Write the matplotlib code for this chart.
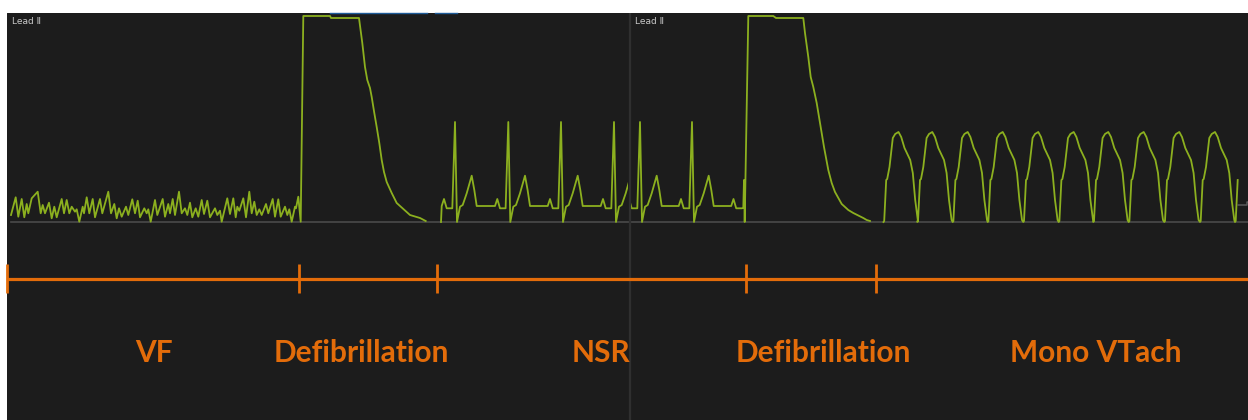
import numpy as np
import matplotlib.pyplot as plt

# trace values: x = screen column of the monitor strip, y = height above baseline
vf_x = [11, 15.7, 18.3, 21.7, 24.3, 26.7, 28.3, 31.7, 37.7, 40.7, 42.7, 45, 49, 51.7,
        54.3, 56.7, 61.7, 64, 66.7, 69.3, 71.7, 75, 76.7, 79.3, 82.7, 84, 86.7, 89.3,
        92.7, 95, 100, 102.3, 108.3, 111, 114.3, 116.7, 119, 121.7, 126, 128.3, 132.3,
        135, 137.7, 140, 144.3, 146.7, 148.3, 150.7, 155, 157.3, 162.7, 165, 168.3, 170,
        172.7, 175, 179, 181.7, 185, 187.3, 190, 192.3, 195.7, 198.3, 201.7, 204, 207.3,
        210, 215, 217.3, 220, 221.7, 227.3, 230, 233.3, 235.7, 237.3, 239.3, 243.3, 246,
        249.3, 251.7, 254.3, 256.7, 259.3, 261.7, 266, 268.3, 272.7, 275, 278.3, 280.7,
        285, 287.3, 289.3, 291.7, 295, 296, 298.3, 300.7]
vf_y = [7, 24.7, 5.3, 23, 4.7, 18, 8.7, 23.7, 30.3, 8.7, 17, 8.7, 19.3, 3.7,
        15.3, 4.7, 23, 8.7, 22, 8.7, 15.3, 10.3, 12.7, 0.3, 15.3, 8.7, 24.7, 8.7,
        23, 4.7, 23, 8.7, 30.3, 8.7, 18, 3.7, 13.7, 5.3, 15.3, 7, 22.7,
        8.7, 21.3, 4.7, 13.7, 8.7, 12.7, 0.3, 22, 7, 23, 5.3, 18, 8.7,
        23, 7, 30.3, 8.7, 13.7, 7, 19.3, 4.7, 13.7, 5.3, 22, 8, 21.3,
        4.7, 13.7, 7, 11.3, 0.3, 23.7, 8, 23.7, 4.7, 15.3, 11.3, 23.7, 4.7,
        30.3, 8.7, 20.3, 7, 12.7, 7, 18, 8.7, 23, 5.3, 22.7, 5.3,
        15.3, 7, 12.7, 0.3, 15.3, 13.7, 25.3, 0.3]

shock1_x = [303.3, 330, 331, 359, 362.3, 365, 367.3, 370, 371.7, 374.3, 376.7, 379.3,
            381.7, 384, 386.7, 391.7, 396.7, 403.3, 410, 416.7, 420, 425.7]
shock1_y = [206, 206, 204, 204, 179, 155, 142, 134, 125, 109, 95, 79,
            62, 50, 40, 29, 19, 13, 7, 5, 4, 1]

shock2_x = [743.3, 744, 744.7, 748.3, 773.3, 776, 803.3, 805, 808.3, 810.7, 813.3, 816.7,
            820, 824, 828.3, 831.7, 835, 841.7, 848.3, 853.3, 863.3, 866.7, 870]
shock2_y = [14, 42, 0, 206, 206, 204, 204, 189, 165, 145, 135, 119,
            99, 75, 52, 39, 30, 18, 12, 9, 4, 2, 1]

# one sinus beat, offsets from the R peak
nsr_dx = [-13.3, -11, -8.3, -2.7, 0, 2, 5, 7.7, 11.7, 16.7, 19.3, 21.7, 25]
nsr_y = [16, 23, 13.7, 13.7, 100, 0, 15.3, 17, 28.7, 46.3, 32, 16, 16]
nsr_r_left = [455, 508.3, 561, 614]
nsr_r_right = [640, 692]
p_wave_before_shock = 744.5

# one monomorphic VT complex, offsets from its onset
vt_dx = [0, 0.7, 2.7, 3.7, 6, 9.3, 11.7, 15, 17.7, 21, 26.7, 29.3, 31.7, 34.3]
vt_y = [0, 1, 42, 43, 55, 84, 88, 90, 85, 74, 62, 49, 22, 2]
vt_onsets = [883.5, 917.3, 952.7, 987.7, 1023.3, 1058.7, 1093.3, 1128.7, 1164.3, 1200, 1235]
vt_end = 1238

# timeline under the strips
event_x = [7, 299, 437, 746, 876]
segment_names = ["VF", "Defibrillation", "NSR", "Defibrillation", "Mono VTach"]
segment_label_x = [154, 361, 601, 823, 1096]

bg = "#1c1c1c"
trace_col = "#8cb01f"
orange = "#e36c0a"
ylo, yhi = -198, 209


def beats(r_list, dx, dy):
    xs, ys = [], []
    for r in r_list:
        xs += [r + d for d in dx]
        ys += list(dy)
    return xs, ys


def setupStrip(ax, x0, x1):
    ax.set_xlim(x0, x1)
    ax.set_ylim(ylo, yhi)
    ax.axis("off")
    ax.add_patch(plt.Rectangle((x0, ylo), x1 - x0, yhi - ylo, color=bg, zorder=0))
    ax.text(x0 + 5, 201, "Lead \u2161", color="#c8c8c8", fontsize=6.5, va="center",
            family=["DejaVu Sans"])


fig = plt.figure(figsize=(12.48, 4.2), dpi=100, facecolor="white")
W, H = 1248, 420

left = fig.add_axes([7 / W, 0, (631 - 7) / W, 407 / H])
right = fig.add_axes([630 / W, 0, (1248 - 630) / W, 407 / H])
setupStrip(left, 7, 631)
setupStrip(right, 630, 1248)

# left strip: VF -> shock -> sinus rhythm, cut off at the strip edge
nx, ny = beats(nsr_r_left, nsr_dx, nsr_y)
lx = vf_x + shock1_x + [np.nan, 441] + nx
ly = vf_y + shock1_y + [np.nan, 0] + ny
left.plot([11, 629], [0, 0], color="#4a4a4a", lw=1.2, zorder=1)
trace, = left.plot(lx, ly, color=trace_col, lw=1.3, zorder=2, solid_joinstyle="round")
trace.set_clip_path(plt.Rectangle((7, ylo), 621, yhi - ylo, transform=left.transData))
left.plot([330, 427], [yhi, yhi], color="#1f5c99", lw=1.0, clip_on=False)
left.plot([435, 457], [yhi, yhi], color="#1f5c99", lw=1.0, clip_on=False)

# right strip: sinus rhythm -> shock -> monomorphic VT
nx, ny = beats(nsr_r_right, nsr_dx, nsr_y)
px, py = beats([p_wave_before_shock], nsr_dx[:4], nsr_y[:4])
vx, vy = beats(vt_onsets, vt_dx, vt_y)
vx, vy = zip(*[(a, b) for a, b in zip(vx, vy) if a <= vt_end])
rx = nx + px + shock2_x + [np.nan] + list(vx)
ry = ny + py + shock2_y + [np.nan] + list(vy)
right.plot([630, 1248], [0, 0], color="#4a4a4a", lw=1.2, zorder=1)
right.plot(rx, ry, color=trace_col, lw=1.3, zorder=2, solid_joinstyle="round")
right.plot([1238, 1246.7, 1246.7, 1248], [17, 17, 20, 20], color="#5a5a5a", lw=1.1)

# event timeline (overlay across both strips)
tl = fig.add_axes([7 / W, 0, (1248 - 7) / W, 407 / H])
tl.set_xlim(7, 1248)
tl.set_ylim(ylo, yhi)
tl.axis("off")
tl.patch.set_alpha(0)
tl.axvline(629.5, color="#2f2f2f", lw=1.6, zorder=1)
tl.plot([7, 1248], [-57, -57], color=orange, lw=2.3, solid_capstyle="butt", zorder=2)
for ex in event_x:
    tl.plot([ex, ex], [-42, -71], color=orange, lw=2.0, solid_capstyle="butt",
            clip_on=False, zorder=2)
for name, lx_ in zip(segment_names, segment_label_x):
    tl.text(lx_, -131, name, color=orange, fontsize=21.5, fontweight="bold",
            family="Lato", ha="center", va="center")

plt.savefig("out.png", dpi=100, facecolor=fig.get_facecolor())
